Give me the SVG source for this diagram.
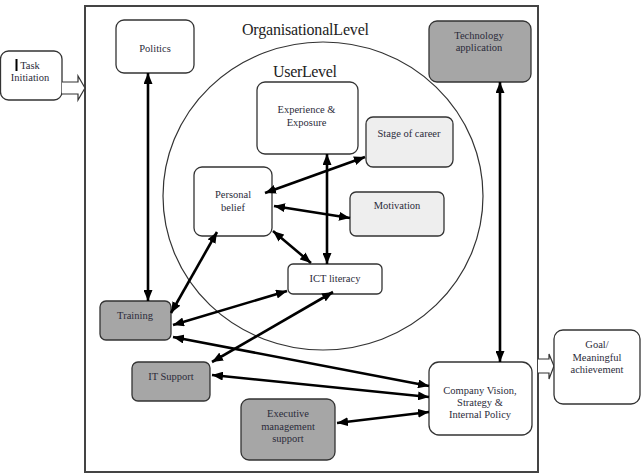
<svg xmlns="http://www.w3.org/2000/svg" width="642" height="475" viewBox="0 0 642 475">
<defs>
<marker id="ah" markerUnits="userSpaceOnUse" markerWidth="11" markerHeight="9" refX="11" refY="4.5" orient="auto-start-reverse"><path d="M0,0 L11,4.5 L0,9 z" fill="#000"/></marker>
<style>
.box{stroke:#333;stroke-width:1.3;fill:#fff}
.dark{fill:#a6a6a6}
.light{fill:#eeeeee}
.t{font-family:"Liberation Serif",serif;font-size:10.5px;fill:#2b2b3a;text-anchor:middle}
.big{font-family:"Liberation Serif",serif;font-size:16px;fill:#222}
.c{stroke:#000;stroke-width:2.6;fill:none;marker-start:url(#ah);marker-end:url(#ah)}
.hollow{fill:#fff;stroke:#333;stroke-width:1.2}
</style>
</defs>
<rect width="642" height="475" fill="#fff"/>
<g id="org-frame">
<rect x="85" y="6" width="453" height="466" fill="none" stroke="#444" stroke-width="2"/>
<text class="big" x="242" y="35" textLength="127">OrganisationalLevel</text>
</g>
<g id="user-level">
<ellipse cx="323" cy="196" rx="160" ry="154" fill="none" stroke="#333" stroke-width="1.2"/>
<text class="big" x="273" y="77" textLength="64">UserLevel</text>
</g>
<g id="task-initiation">
<rect class="box" x="0.5" y="51" width="61.5" height="49" rx="8"/>
<rect x="15.5" y="59" width="2" height="12" fill="#000"/>
<text class="t" x="30" y="68.5">Task</text>
<text class="t" x="30" y="81">Initiation</text>
<path class="hollow" d="M62,82 L78,82 L78,76 L85,88 L78,100 L78,94 L62,94"/>
</g>
<g id="politics"><rect class="box" x="116" y="20" width="78" height="53" rx="8"/><text class="t" x="155" y="51.5">Politics</text></g>
<g id="technology"><rect class="box dark" x="429" y="21" width="102" height="61" rx="8"/><text class="t" x="479" y="38.5">Technology</text><text class="t" x="479" y="50.5">application</text></g>
<g id="experience"><rect class="box" x="257" y="82" width="101" height="72" rx="8"/><text class="t" x="306.5" y="113">Experience &amp;</text><text class="t" x="306.5" y="125.5">Exposure</text></g>
<g id="stage"><rect class="box light" x="366" y="117" width="87" height="50" rx="7"/><text class="t" x="409" y="136.5">Stage of career</text></g>
<g id="personal"><rect class="box" x="194" y="167" width="78" height="69" rx="8"/><text class="t" x="233" y="197.5">Personal</text><text class="t" x="233" y="210.5">belief</text></g>
<g id="motivation"><rect class="box light" x="350" y="192" width="94" height="44" rx="6"/><text class="t" x="397" y="208.5">Motivation</text></g>
<g id="ict"><rect class="box" x="288" y="264" width="94" height="30" rx="5"/><text class="t" x="335" y="281.5">ICT literacy</text></g>
<g id="training"><rect class="box dark" x="100" y="301" width="71" height="39" rx="6"/><text class="t" x="135" y="318.5">Training</text></g>
<g id="it-support"><rect class="box dark" x="132" y="362" width="78" height="39" rx="6"/><text class="t" x="171" y="379.5">IT Support</text></g>
<g id="executive"><rect class="box dark" x="241" y="399" width="94" height="61" rx="8"/><text class="t" x="288" y="417">Executive</text><text class="t" x="288" y="429.5">management</text><text class="t" x="288" y="441.5">support</text></g>
<g id="company"><rect class="box" x="429" y="362" width="103" height="73" rx="10"/><text class="t" x="480" y="393.5">Company Vision,</text><text class="t" x="480" y="406">Strategy &amp;</text><text class="t" x="480" y="418">Internal Policy</text></g>
<g id="goal">
<path class="hollow" d="M538,359 L549,359 L549,354 L554,366 L549,379 L549,373 L538,373"/>
<rect class="box" x="554" y="330" width="86" height="74" rx="9"/><text class="t" x="597" y="347.5">Goal/</text><text class="t" x="597" y="360.5">Meaningful</text><text class="t" x="597" y="372.5">achievement</text></g>
<g id="connectors">
<line class="c" x1="148" y1="73" x2="148" y2="301"/>
<line class="c" x1="500" y1="82" x2="500" y2="362"/>
<line class="c" x1="327" y1="154" x2="327" y2="264"/>
<line class="c" x1="265" y1="193" x2="365" y2="157"/>
<line class="c" x1="274" y1="206" x2="350" y2="218"/>
<line class="c" x1="273" y1="231" x2="311" y2="263"/>
<line class="c" x1="171" y1="313" x2="217" y2="232"/>
<line class="c" x1="173" y1="325" x2="287" y2="291"/>
<line class="c" x1="173" y1="337" x2="429" y2="386"/>
<line class="c" x1="212" y1="375" x2="429" y2="397"/>
<line class="c" x1="212" y1="362" x2="333" y2="292"/>
<line class="c" x1="337" y1="423" x2="429" y2="412"/>
</g>
</svg>
